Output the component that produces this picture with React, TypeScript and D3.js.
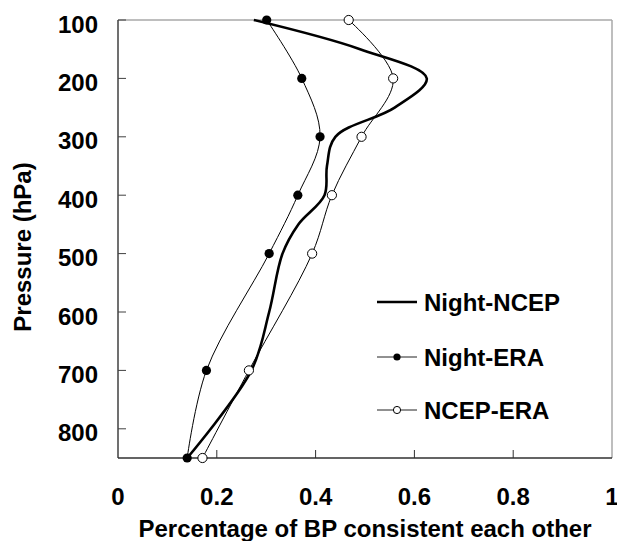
import * as d3 from 'd3';

const width = 617;
const height = 541;
const margin = { top: 20, left: 118, bottom: 83, right: 5 };

// pressure levels (hPa) and percentages
const levels = [100, 200, 300, 400, 500, 700, 850];
const nightEra = [0.301, 0.372, 0.409, 0.364, 0.306, 0.179, 0.14];
const ncepEra = [0.467, 0.557, 0.493, 0.433, 0.393, 0.265, 0.171];

// Night-NCEP is drawn without markers, on a finer set of levels
const ncepLevels = [100, 150, 200, 250, 300, 350, 400, 450, 500, 600, 700, 850];
const nightNcep = [0.275, 0.49, 0.625, 0.56, 0.44, 0.423, 0.418, 0.365, 0.333, 0.306, 0.27, 0.14];

const xTicks = [0, 0.2, 0.4, 0.6, 0.8, 1];
const yTicks = [100, 200, 300, 400, 500, 600, 700, 800];

const legendItems = ['Night-NCEP', 'Night-ERA', 'NCEP-ERA'];

const font = '"Liberation Sans", Arial, sans-serif';

export default function App() {
  const x = d3.scaleLinear().domain([0, 1]).range([margin.left, width - margin.right]);
  const y = d3.scaleLinear().domain([100, 850]).range([margin.top, height - margin.bottom]);

  const line = d3
    .line<[number, number]>()
    .x((d) => x(d[0]))
    .y((d) => y(d[1]))
    .curve(d3.curveCatmullRom.alpha(0.5));

  const pairs = (vals: number[], lv: number[]) => vals.map((v, i) => [v, lv[i]] as [number, number]);

  const x0 = x(0);
  const x1 = x(1);
  const yTop = y(100);
  const yBot = y(850);

  return (
    <svg
      width={width}
      height={height}
      style={{ position: 'absolute', left: 0, top: 0, background: '#fff' }}
      fontFamily={font}
      fontWeight="bold"
    >
      {/* frame */}
      <line x1={x0} x2={x1} y1={yTop} y2={yTop} stroke="#a8a8a8" strokeWidth={1.5} />
      <line x1={x1} x2={x1} y1={yTop} y2={yBot} stroke="#a8a8a8" strokeWidth={1.5} />
      <line x1={x0} x2={x0} y1={yTop} y2={yBot} stroke="#404040" strokeWidth={1.5} />
      <line x1={x0} x2={x1} y1={yBot} y2={yBot} stroke="#303030" strokeWidth={1.5} />

      {/* y ticks */}
      {yTicks.map((t) => (
        <g key={t}>
          <line x1={x0} x2={x0 + 8} y1={y(t)} y2={y(t)} stroke="#404040" strokeWidth={1} />
          <text x={98} y={y(t) + 12.5} textAnchor="end" fontSize={24}>
            {t}
          </text>
        </g>
      ))}

      {/* x ticks */}
      {xTicks.map((t) => (
        <g key={t}>
          {t > 0 && t < 1 && (
            <line x1={x(t)} x2={x(t)} y1={yBot} y2={yBot - 8} stroke="#303030" strokeWidth={1} />
          )}
          <text x={x(t)} y={505} textAnchor="middle" fontSize={24}>
            {t}
          </text>
        </g>
      ))}

      <text x={(x0 + x1) / 2} y={537} textAnchor="middle" fontSize={24}>
        Percentage of BP consistent each other
      </text>
      <text transform="translate(31,247) rotate(-90)" textAnchor="middle" fontSize={24}>
        Pressure (hPa)
      </text>

      {/* series */}
      <path d={line(pairs(nightNcep, ncepLevels)) || ''} fill="none" stroke="#000" strokeWidth={2.6} />
      <path d={line(pairs(nightEra, levels)) || ''} fill="none" stroke="#000" strokeWidth={1} />
      <path d={line(pairs(ncepEra, levels)) || ''} fill="none" stroke="#000" strokeWidth={1} />
      {nightEra.map((v, i) => (
        <circle key={'e' + i} cx={x(v)} cy={y(levels[i])} r={4.6} fill="#000" />
      ))}
      {ncepEra.map((v, i) => (
        <circle key={'n' + i} cx={x(v)} cy={y(levels[i])} r={4.6} fill="#fff" stroke="#000" strokeWidth={1} />
      ))}

      {/* legend */}
      {legendItems.map((name, i) => {
        const ly = [302, 357, 410][i];
        return (
          <g key={name}>
            <line
              x1={377}
              x2={417}
              y1={ly}
              y2={ly}
              stroke={i === 0 ? '#000' : '#222'}
              strokeWidth={i === 0 ? 2.4 : 1}
            />
            {i === 1 && <circle cx={397} cy={ly} r={3.6} fill="#000" />}
            {i === 2 && <circle cx={397} cy={ly} r={3.6} fill="#fff" stroke="#000" strokeWidth={1} />}
            <text x={424} y={ly + 8.5} fontSize={24}>
              {name}
            </text>
          </g>
        );
      })}
    </svg>
  );
}
